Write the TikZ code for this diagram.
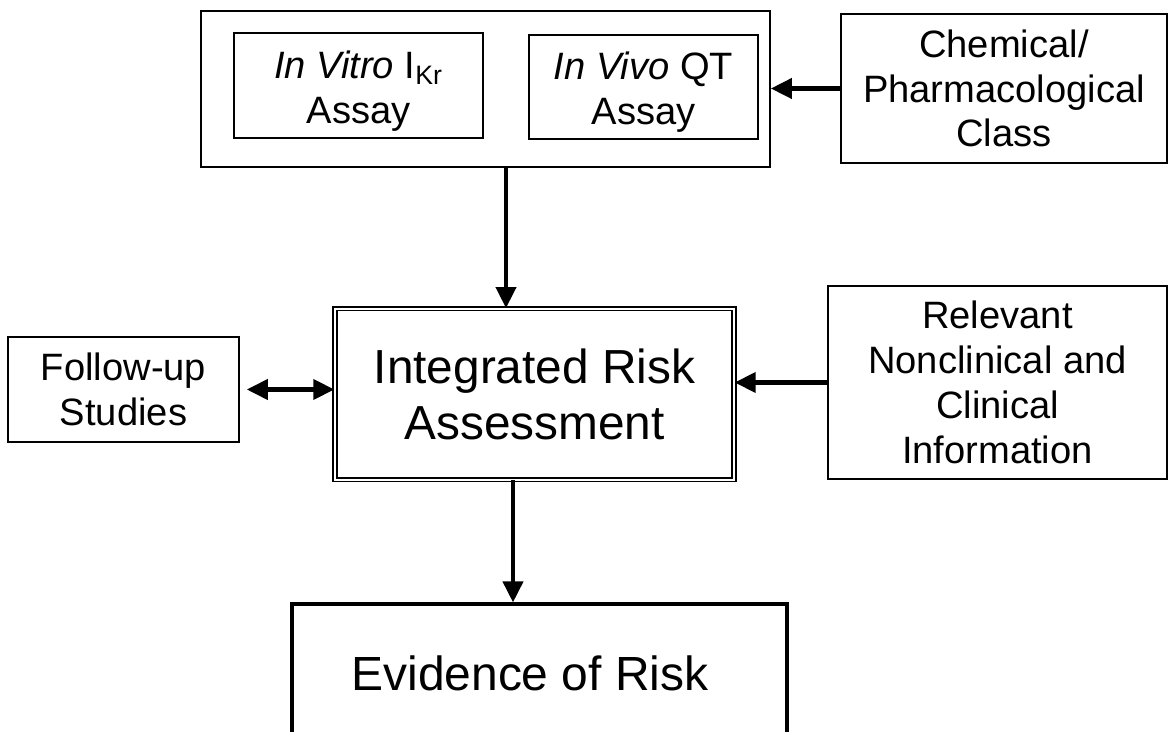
\documentclass[tikz,border=0pt]{standalone}
\usepackage{fontspec}
\setmainfont{Liberation Sans}
\usetikzlibrary{arrows.meta}
\tikzstyle{box}=[draw, line width=0.9pt, inner sep=0pt, align=center]
\tikzstyle{smalltext}=[font=\fontsize{21.7}{25.5}\selectfont]
\tikzstyle{flow}=[draw, line width=2.3pt, ->, >={Triangle[length=0.42cm, width=0.4cm]}]

\begin{document}
\begin{tikzpicture}[x=0.02cm, y=-0.02cm]

    \useasboundingbox (0,0) rectangle (1171,732);

    % frame round the two assays
    \node[box, line width=1pt, minimum width=569*0.02cm, minimum height=156*0.02cm] (assays) at (485.5,89) {};

    \foreach \name/\x/\y/\w/\h/\txt in {
        vitro/358.5/85.5/249/105/{\rule{0pt}{22pt}\textit{In Vitro} I\textsubscript{Kr}\\Assay},
        vivo/643.5/87/229/104/{\rule{0pt}{22pt}\textit{In Vivo} QT\\Assay},
        chem/1004/88.5/326/149/{Chemical/\\Pharmacological\\Class},
        follow/123.5/389.5/231/105/{Follow-up\\Studies},
        rel/997.5/382.5/339/193/{Relevant\\Nonclinical and\\Clinical\\Information}}
        \node[box, smalltext, minimum width=\w*0.02cm, minimum height=\h*0.02cm] (\name) at (\x,\y) {\txt};

    \node[box, line width=0.8pt, double, double distance=1.4pt, font=\fontsize{27.2}{31.7}\selectfont,
          minimum width=399*0.02cm, minimum height=171*0.02cm] (integ) at (534.5,394.3) {Integrated Risk\\Assessment};

    \node[box, line width=1.8pt, font=\fontsize{27.3}{31}\selectfont,
          minimum width=495*0.02cm, minimum height=138*0.02cm] (evid) at (539.5,673) {Evidence of Risk\hspace*{0.38cm}};

    \coordinate (down1) at (506,0);
    \coordinate (down2) at (513,0);

    \path[flow] (chem.west) -- (chem.west -| assays.east);
    \path[flow] (assays.south -| down1) -- (integ.north -| down1);
    \path[flow, <->, shorten <=0.14cm] (follow.east) -- (follow.east -| integ.west);
    \path[flow] (rel.west) -- (rel.west -| integ.east);
    \path[flow] (integ.south -| down2) -- (evid.north -| down2);

\end{tikzpicture}
\end{document}
